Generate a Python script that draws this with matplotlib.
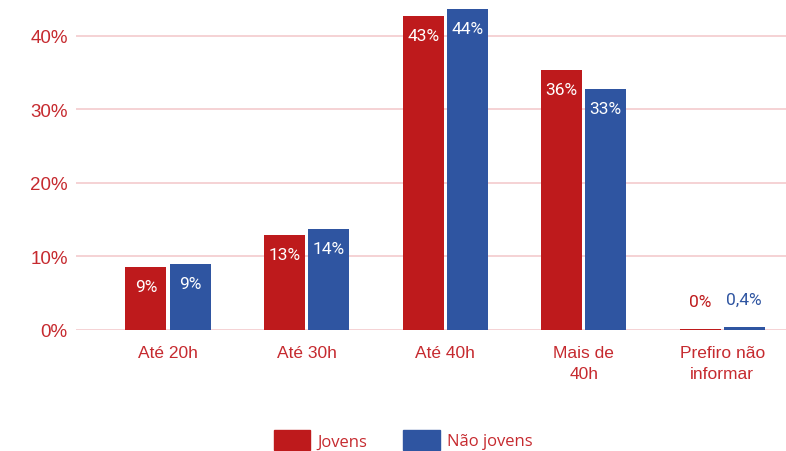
import matplotlib
matplotlib.use("Agg")
import matplotlib.pyplot as plt
import numpy as np
from matplotlib.patches import Patch

categories = ["Até 20h", "Até 30h", "Até 40h", "Mais de\n40h", "Prefiro não\ninformar"]
jovens = [8.6, 12.9, 42.7, 35.4, 0.1]
nao_jovens = [9.0, 13.7, 43.7, 32.8, 0.4]
jovens_labels = ["9%", "13%", "43%", "36%", "0%"]
nao_jovens_labels = ["9%", "14%", "44%", "33%", "0,4%"]
yticks = [0, 10, 20, 30, 40]

RED = "#BE1A1C"
BLUE = "#2F55A1"
TEXT_RED = "#C62A2F"
GRID = "#F3CBCD"

plt.rcParams["font.family"] = ["Liberation Sans", "DejaVu Sans"]

fig = plt.figure(figsize=(7.86, 4.52), dpi=100)
ax = fig.add_axes([76 / 786, 121 / 452, 1 - 76 / 786, 331 / 452])

x = np.arange(len(categories))
w = 0.296
off = 0.159
b1 = ax.bar(x - off, jovens, w, color=RED, zorder=3)
b2 = ax.bar(x + off, nao_jovens, w, color=BLUE, zorder=3)

for bars, labels, col in [(b1, jovens_labels, RED), (b2, nao_jovens_labels, BLUE)]:
    for rect, lab in zip(bars, labels):
        h = rect.get_height()
        cx = rect.get_x() + rect.get_width() / 2
        if h > 2:
            ax.annotate(lab, (cx, h), xytext=(0, -14), textcoords="offset points",
                        ha="center", va="center", color="white", fontsize=12.5,
                        family=["Roboto", "DejaVu Sans"])
        else:
            ax.annotate(lab, (cx, h), xytext=(0, 20), textcoords="offset points",
                        ha="center", va="center", color=col, fontsize=12.5,
                        family=["Roboto", "DejaVu Sans"])

ax.set_ylim(0, 45)
ax.set_xlim(-0.664, 4.46)
ax.set_yticks(yticks)
ax.set_yticklabels([f"{v}%" for v in yticks])
ax.set_xticks(x)
ax.set_xticklabels(categories, linespacing=1.45)
ax.tick_params(axis="y", length=0, labelsize=13.5, labelcolor=TEXT_RED, pad=6)
ax.tick_params(axis="x", length=0, labelsize=12.5, labelcolor=TEXT_RED, pad=11)
ax.yaxis.grid(True, color=GRID, linewidth=1.2, zorder=0)
for s in ax.spines.values():
    s.set_visible(False)

handles = [Patch(color=RED, label="Jovens"), Patch(color=BLUE, label="Não jovens")]
leg = fig.legend(handles=handles, loc="center", bbox_to_anchor=(403 / 786, 1 - 441 / 452),
                 ncol=2, frameon=False, handlelength=2.2, handleheight=1.5,
                 columnspacing=2.2, handletextpad=0.4,
                 prop={"family": ["Open Sans", "DejaVu Sans"], "size": 12})
for t in leg.get_texts():
    t.set_color(TEXT_RED)

fig.savefig("out.png", dpi=100)
